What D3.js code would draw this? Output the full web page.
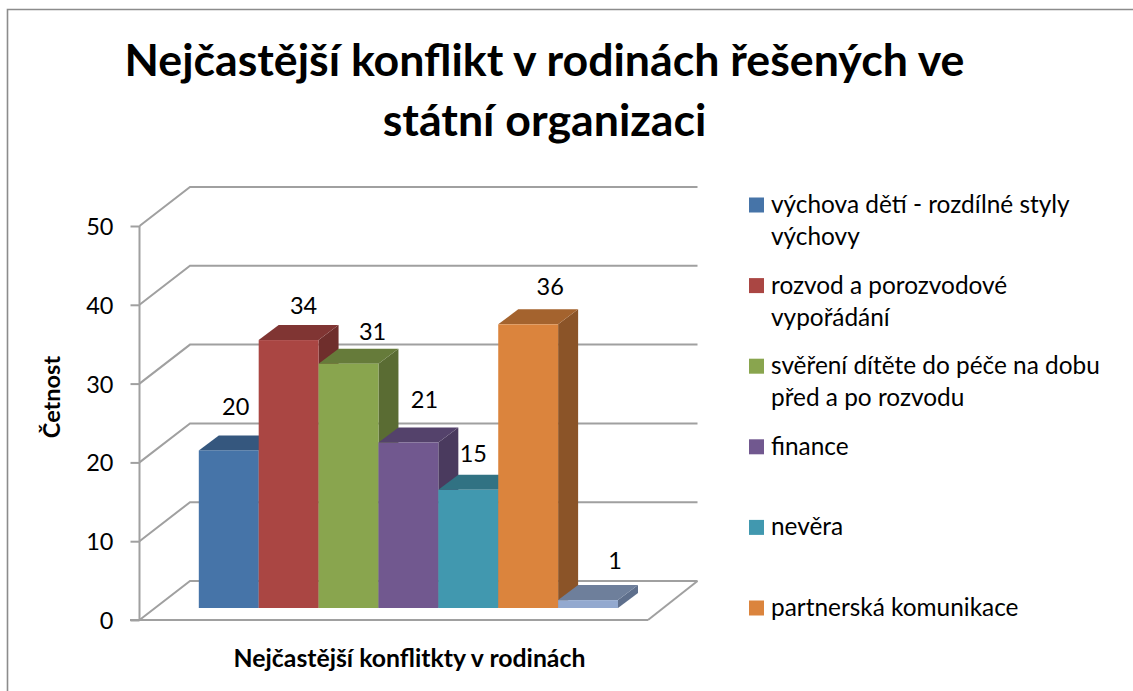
<!DOCTYPE html>
<html><head><meta charset="utf-8">
<script src="https://cdn.jsdelivr.net/npm/d3@7"></script>
<style>html,body{margin:0;padding:0;background:#fff}svg{display:block}text{font-family:Lato,"Open Sans",sans-serif;fill:#000}</style>
</head><body><svg id="c" width="1133" height="691"></svg>
<script>
const categories = ["výchova dětí - rozdílné styly výchovy","rozvod a porozvodové vypořádání","svěření dítěte do péče na dobu před a po rozvodu","finance","nevěra","partnerská komunikace","ostatní"];
const values = [20,34,31,21,15,36,1];
const legendLines = [["výchova dětí - rozdílné styly","výchovy"],["rozvod a porozvodové","vypořádání"],["svěření dítěte do péče na dobu","před a po rozvodu"],["finance"],["nevěra"],["partnerská komunikace"]];
const frontColors = ["#4674a8","#aa4643","#89a54e","#71588f","#4198af","#db843d","#93a9cf"];
const topColors = ["#35577e","#803533","#667b3a","#54426b","#317283","#a4632e","#6e7f9b"];
const sideColors = ["#2f4f73","#6f2e2c","#5a6c33","#4a3a5e","#2a6475","#8b5428","#5e6f8c"];
const yTicks = [0,10,20,30,40,50];
const titleLines = ["Nejčastější konflikt v rodinách řešených ve","státní organizaci"];
const xTitle = "Nejčastější konflitkty v rodinách";
const yTitle = "Četnost";
const labelNudge = [[-3,0],[5,9],[14,11],[6,0],[-5,7],[12,6],[17,4]];

const svg = d3.select("#c");
const grey = "#a0a0a0";
const floorL = 139.5, floorR = 648, wallDx = 50.5, wallDy = -39;
const barDx = 20, barDy = -15, baseDy = -12;
const y = d3.scaleLinear().domain([0,50]).range([620,226]);
const x = d3.scaleBand().domain(d3.range(values.length)).range([198.8,618]).padding(0);

// border
svg.append("path").attr("d","M7.5,691V9.5H1133").attr("fill","none").attr("stroke","#8c8c8c").attr("stroke-width",1.6);

// gridlines (wall + side wall)
const grid = svg.append("g").attr("fill","none").attr("stroke",grey).attr("stroke-width",2);
grid.selectAll("path").data(yTicks).join("path")
  .attr("d",t=>`M${floorL},${y(t)}L${floorL+wallDx},${y(t)+wallDy}L${floorR+wallDx-1},${y(t)+wallDy}`);
grid.append("path").attr("d",`M${floorR+wallDx-1},${y(0)+wallDy}L${floorR},${y(0)}`);

// y axis
const axis = d3.axisLeft(y).tickValues(yTicks).tickSize(9).tickPadding(17).tickFormat(d3.format("d"));
const ga = svg.append("g").attr("transform",`translate(${floorL},0)`).call(axis);
ga.selectAll("line,path").attr("stroke",grey).attr("stroke-width",2);
ga.select(".domain").attr("d",`M0,${y(50)}V${y(0)}`);
ga.selectAll("text").attr("font-size",23.5).attr("fill","#000").style("font-family","Lato");
ga.selectAll(".tick text").attr("dy","0.36em");
svg.append("line").attr("x1",130).attr("x2",floorR).attr("y1",y(0)).attr("y2",y(0)).attr("stroke",grey).attr("stroke-width",2);

// bars
const bars = svg.append("g").selectAll("g").data(values).join("g");
const X0 = (d,i)=>x(i), X1 = (d,i)=>x(i)+x.bandwidth();
const Yb = y(0)+baseDy, Yt = d=>y(d)+baseDy;
bars.append("path").attr("fill",(d,i)=>sideColors[i])
  .attr("d",(d,i)=>`M${X1(d,i)},${Yb}L${X1(d,i)+barDx},${Yb+barDy}L${X1(d,i)+barDx},${Yt(d)+barDy}L${X1(d,i)},${Yt(d)}Z`);
bars.append("path").attr("fill",(d,i)=>topColors[i])
  .attr("d",(d,i)=>`M${X0(d,i)},${Yt(d)}L${X0(d,i)+barDx},${Yt(d)+barDy}L${X1(d,i)+barDx},${Yt(d)+barDy}L${X1(d,i)},${Yt(d)}Z`);
bars.append("rect").attr("fill",(d,i)=>frontColors[i])
  .attr("x",X0).attr("width",x.bandwidth()).attr("y",Yt).attr("height",d=>Yb-Yt(d));

// value labels
svg.append("g").selectAll("text").data(values).join("text")
  .attr("text-anchor","middle").attr("font-size",23.5)
  .attr("x",(d,i)=>x(i)+x.bandwidth()/2+barDx/2+labelNudge[i][0])
  .attr("y",(d,i)=>Yt(d)+barDy-20+labelNudge[i][1])
  .text(d=>d);

// titles
svg.append("g").selectAll("text").data(titleLines).join("text")
  .attr("text-anchor","middle").attr("x",544.5).attr("y",(d,i)=>76+i*60)
  .attr("font-size",44.7).attr("font-weight",700).text(d=>d);
svg.append("text").attr("text-anchor","middle").attr("x",409.5).attr("y",667)
  .attr("font-size",24.8).attr("font-weight",700).text(xTitle);
svg.append("text").attr("text-anchor","middle").attr("transform","translate(60,397) rotate(-90)")
  .attr("font-size",23.5).attr("font-weight",700).text(yTitle);

// legend
const legendY = d3.scalePoint().domain(d3.range(legendLines.length)).range([205,608]);
const lg = svg.append("g").selectAll("g").data(legendLines).join("g")
  .attr("transform",(d,i)=>`translate(749,${legendY(i)})`);
lg.append("rect").attr("y",-7.5).attr("width",15).attr("height",15).attr("fill",(d,i)=>frontColors[i]);
lg.selectAll("text").data(d=>d).join("text").attr("x",22).attr("y",(d,j)=>8+j*32)
  .attr("font-size",24.4).text(d=>d);
</script></body></html>
